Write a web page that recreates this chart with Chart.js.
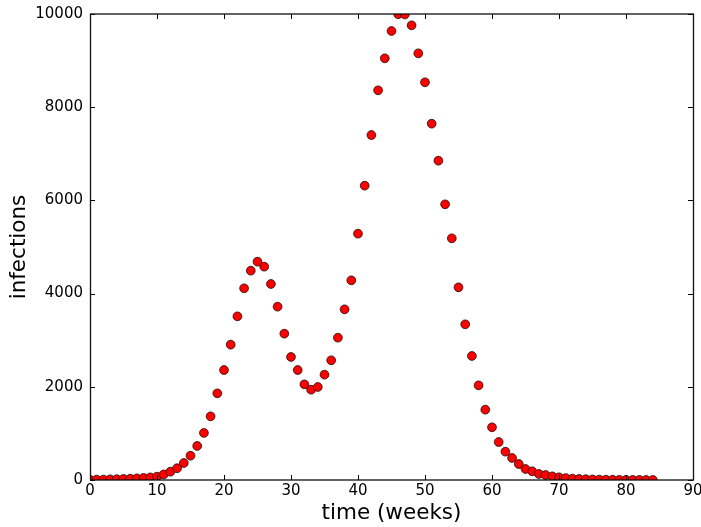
<!DOCTYPE html>
<html>
<head>
<meta charset="utf-8">
<script src="https://cdn.jsdelivr.net/npm/chart.js@4/dist/chart.umd.min.js"></script>
<style>
  html, body { margin: 0; padding: 0; background: #ffffff; }
  #c { display: block; }
</style>
</head>
<body>
<canvas id="c" width="701" height="527"></canvas>
<script>
// ---- data ----
const weeks = [0,1,2,3,4,5,6,7,8,9,10,11,12,13,14,15,16,17,18,19,20,21,22,23,24,25,26,27,28,29,
  30,31,32,33,34,35,36,37,38,39,40,41,42,43,44,45,46,47,48,49,50,51,52,53,54,55,56,57,58,59,
  60,61,62,63,64,65,66,67,68,69,70,71,72,73,74,75,76,77,78,79,80,81,82,83,84];
const infections = [5,8,10,14,17,22,28,36,45,56,72,120,178,252,365,521,730,1010,1367,1860,
  2360,2904,3513,4114,4492,4685,4578,4206,3719,3140,2640,2360,2053,1938,1996,2260,2569,3054,3663,4285,
  5286,6316,7403,8362,9049,9635,9995,9990,9757,9156,8534,7646,6852,5916,5187,4135,3341,2661,2032,1509,
  1131,815,607,472,343,236,187,129,107,79,58,42,31,23,17,13,10,7,5,4,3,2,2,1,1];
const xTicks = [0,10,20,30,40,50,60,70,80,90];
const yTicks = [0,2000,4000,6000,8000,10000];
const xLabel = 'time (weeks)';
const yLabel = 'infections';

const points = weeks.map((w, i) => ({ x: w, y: infections[i] }));

const FONT = 'DejaVu Sans';

const frameTicks = {
  id: 'frameTicks',
  afterDatasetsDraw(chart) {
    const { ctx, chartArea: a, scales: { x, y } } = chart;
    const L = 5;
    ctx.save();
    ctx.strokeStyle = '#000000';
    ctx.lineWidth = 1;
    ctx.beginPath();
    xTicks.forEach(v => {
      const px = Math.round(x.getPixelForValue(v)) + 0.5;
      ctx.moveTo(px, a.bottom); ctx.lineTo(px, a.bottom - L);
      ctx.moveTo(px, a.top); ctx.lineTo(px, a.top + L);
    });
    yTicks.forEach(v => {
      const py = Math.round(y.getPixelForValue(v)) + 0.5;
      ctx.moveTo(a.left, py); ctx.lineTo(a.left + L, py);
      ctx.moveTo(a.right, py); ctx.lineTo(a.right - L, py);
    });
    ctx.stroke();
    ctx.lineWidth = 1.3;
    ctx.strokeStyle = '#111111';
    ctx.strokeRect(a.left + 0.5, a.top, a.right - a.left, a.bottom - a.top);
    ctx.restore();
  }
};

new Chart(document.getElementById('c'), {
  type: 'scatter',
  data: {
    datasets: [{
      data: points,
      backgroundColor: '#ff0000',
      borderColor: '#000000',
      borderWidth: 0.7,
      pointRadius: 4.4,
      pointHoverRadius: 4.4,
      clip: 0
    }]
  },
  options: {
    responsive: false,
    animation: false,
    events: [],
    layout: { padding: { top: 14, right: 8, left: 0, bottom: 0 } },
    plugins: { legend: { display: false }, tooltip: { enabled: false } },
    scales: {
      x: {
        type: 'linear',
        min: 0, max: 90,
        afterBuildTicks(s) { s.ticks = xTicks.map(v => ({ value: v })); },
        afterFit(s) { s.height = 47; s.paddingLeft = 0; s.paddingRight = 0; },
        grid: { display: false, drawTicks: false },
        border: { display: false },
        ticks: {
          autoSkip: false, maxRotation: 0, padding: 2, color: '#000000',
          font: { family: FONT, size: 15 },
          callback: v => String(v)
        },
        title: {
          display: true, text: xLabel, color: '#000000',
          font: { family: FONT, size: 21.5 }, padding: { top: 0, bottom: 1 }
        }
      },
      y: {
        type: 'linear',
        min: 0, max: 10000,
        afterBuildTicks(s) { s.ticks = yTicks.map(v => ({ value: v })); },
        afterFit(s) { s.width = 90; s.paddingTop = 0; s.paddingBottom = 0; },
        grid: { display: false, drawTicks: false },
        border: { display: false },
        ticks: {
          padding: 7, color: '#000000',
          font: { family: FONT, size: 15 },
          callback: v => String(v)
        },
        title: {
          display: true, text: yLabel, color: '#000000',
          font: { family: FONT, size: 21.5 }, padding: { top: 7, bottom: 0 }
        }
      }
    }
  },
  plugins: [frameTicks]
});
</script>
</body>
</html>
